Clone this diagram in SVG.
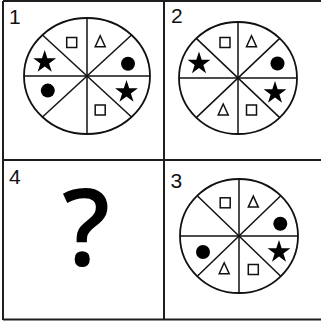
<svg xmlns="http://www.w3.org/2000/svg" width="321" height="325" viewBox="0 0 321 325">
<style>
.grid{stroke:#1e1e1e;stroke-width:2;fill:none}
.wheel{fill:none;stroke:#111;stroke-width:1.8}
.spoke{stroke:#111;stroke-width:1.5}
.out{fill:none;stroke:#111;stroke-width:1.5}
.fill{fill:#000}
.num{font-family:"Liberation Sans",Arial,sans-serif;font-size:21px;fill:#111}
.q{font-family:"Open Sans","Liberation Sans",sans-serif;font-size:106px;font-weight:600;fill:#000}
</style>
<defs>
<polygon id="star" class="fill" points="0,-12 2.7,-3.72 11.41,-3.71 4.37,1.42 7.05,9.71 0,4.6 -7.05,9.71 -4.37,1.42 -11.41,-3.71 -2.7,-3.72"/>
<rect id="sq" class="out" x="-5" y="-5" width="10" height="10"/>
<path id="tri" class="out" d="M0,-5.5 L-5,5.5 L5,5.5 Z"/>
<circle id="dot" class="fill" r="7"/>
</defs>
<g id="grid">
<line class="grid" x1="3" y1="1" x2="321" y2="1"/>
<line class="grid" x1="3" y1="1" x2="3" y2="320"/>
<line class="grid" x1="3" y1="319.5" x2="321" y2="319.5"/>
<line class="grid" x1="164" y1="1" x2="164" y2="320"/>
<line class="grid" x1="3" y1="160" x2="321" y2="160"/>
</g>
<g id="cell1">
<text class="num" x="9" y="24">1</text>
<ellipse class="wheel" cx="87" cy="76" rx="63" ry="58"/>
<g class="spoke">
<line x1="87" y1="18" x2="87" y2="134"/>
<line x1="24" y1="76" x2="150" y2="76"/>
<line x1="42.45" y1="34.99" x2="131.55" y2="117.01"/>
<line x1="131.55" y1="34.99" x2="42.45" y2="117.01"/>
</g>
<use href="#sq" x="71.7" y="42.5"/>
<use href="#tri" x="100.2" y="41.2"/>
<use href="#star" x="44.7" y="62"/>
<use href="#dot" x="128" y="63.7"/>
<use href="#dot" x="47.8" y="90.6"/>
<use href="#star" x="126.5" y="92"/>
<use href="#sq" x="100.2" y="110"/>
</g>
<g id="cell2">
<text class="num" x="171" y="23">2</text>
<ellipse class="wheel" cx="238" cy="78" rx="59" ry="56"/>
<g class="spoke">
<line x1="238" y1="22" x2="238" y2="134"/>
<line x1="179" y1="78" x2="297" y2="78"/>
<line x1="196.28" y1="38.4" x2="279.72" y2="117.6"/>
<line x1="279.72" y1="38.4" x2="196.28" y2="117.6"/>
</g>
<use href="#sq" x="225" y="42.5"/>
<use href="#tri" x="251.5" y="41.3"/>
<use href="#star" x="199" y="63.5"/>
<use href="#dot" x="277.5" y="63.5"/>
<use href="#star" x="275" y="93"/>
<use href="#tri" x="223.2" y="109.5"/>
<use href="#sq" x="251.5" y="110"/>
</g>
<g id="cell4">
<text class="num" x="9" y="184">4</text>
<text class="q" x="86" y="266" text-anchor="middle">?</text>
</g>
<g id="cell3">
<text class="num" x="170.5" y="188">3</text>
<ellipse class="wheel" cx="239" cy="236" rx="59" ry="57"/>
<g class="spoke">
<line x1="239" y1="179" x2="239" y2="293"/>
<line x1="180" y1="236" x2="298" y2="236"/>
<line x1="197.28" y1="195.7" x2="280.72" y2="276.3"/>
<line x1="280.72" y1="195.7" x2="197.28" y2="276.3"/>
</g>
<use href="#sq" x="225.2" y="202.8"/>
<use href="#tri" x="253.3" y="201.6"/>
<use href="#dot" x="280.3" y="223.8"/>
<use href="#dot" x="203" y="252"/>
<use href="#star" x="279" y="252"/>
<use href="#tri" x="224.2" y="268.3"/>
<use href="#sq" x="253.3" y="269.5"/>
</g>
</svg>
